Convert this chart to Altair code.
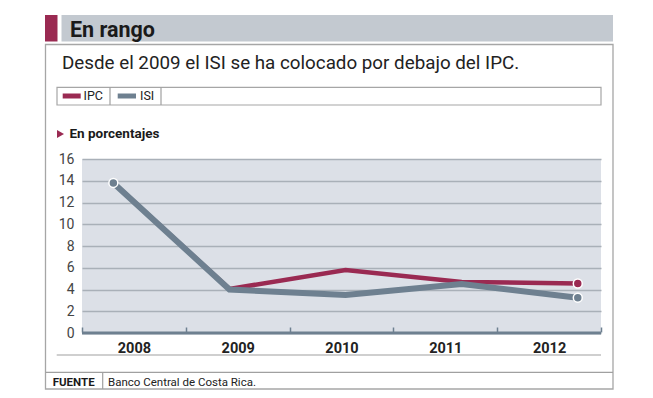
import altair as alt
import pandas as pd

# ---- data ----
years = [2008, 2009, 2010, 2011, 2012]
ipc = [13.8, 4.05, 5.8, 4.7, 4.55]
isi = [13.8, 4.0, 3.5, 4.5, 3.25]
y_ticks = [0, 2, 4, 6, 8, 10, 12, 14, 16]
title_text = "En rango"
subtitle_text = "Desde el 2009 el ISI se ha colocado por debajo del IPC."
unit_text = "En porcentajes"
source_label = "FUENTE"
source_text = "Banco Central de Costa Rica."
series_names = ["IPC", "ISI"]

# ---- style ----
RED = "#9a2a52"
GRAY = "#6e8090"
FONT = "Roboto"
W, H = 519, 174

df_ipc = pd.DataFrame({"year": years, "value": ipc})
df_isi = pd.DataFrame({"year": years, "value": isi})
df_years = pd.DataFrame({"year": [str(y) for y in years]})
df_zero = pd.DataFrame({"value": [y_ticks[0]]})
one = pd.DataFrame({"k": [0]})

xq = alt.X("year:Q", scale=alt.Scale(domain=[2007.73, 2012.2], nice=False, zero=False), axis=None)
yq = alt.Y("value:Q",
           scale=alt.Scale(domain=[0, 16], nice=False),
           axis=alt.Axis(values=y_ticks, grid=True, gridColor="#a9b0b8", gridWidth=1.5,
                         domain=False, ticks=False, labelPadding=8, title=None,
                         labelOverlap=False,
                         labelFont=FONT, labelFontSize=14, labelColor="#444"))

line_ipc = alt.Chart(df_ipc).mark_line(color=RED, strokeWidth=4.5).encode(x=xq, y=yq)
line_isi = alt.Chart(df_isi).mark_line(color=GRAY, strokeWidth=6).encode(x=xq, y=yq)

pts_isi = alt.Chart(df_isi).transform_filter(
    (alt.datum.year == 2008) | (alt.datum.year == 2012)
).mark_circle(color=GRAY, size=80, opacity=1, stroke="white", strokeWidth=1.5).encode(x=xq, y=yq)
pts_ipc = alt.Chart(df_ipc).transform_filter(alt.datum.year == 2012).mark_circle(
    color=RED, size=80, opacity=1, stroke="white", strokeWidth=1.5).encode(x=xq, y=yq)

domain_rule = alt.Chart(df_zero).mark_rule(color=GRAY, strokeWidth=3).encode(
    y=yq, x=alt.value(0), x2=alt.value(W))

axis_layer = alt.Chart(df_years).mark_point(opacity=0).encode(
    x=alt.X("year:O", scale=alt.Scale(type="band", paddingInner=0, paddingOuter=0),
            axis=alt.Axis(orient="bottom", title=None, domain=False, tickBand="extent",
                          tickSize=5, tickWidth=1.5, tickColor=GRAY, offset=-6,
                          labelPadding=9, labelAngle=0, labelFont=FONT, labelFontSize=14.5,
                          labelFontWeight="bold", labelColor="#222")))


def rect(x1, x2, y1, y2, **kw):
    return alt.Chart(one).mark_rect(**kw).encode(
        x=alt.value(x1), x2=alt.value(x2), y=alt.value(y1), y2=alt.value(y2))


def hline(x1, x2, y, color="#a0a0a0", w=1.2):
    return alt.Chart(one).mark_rule(color=color, strokeWidth=w).encode(
        x=alt.value(x1), x2=alt.value(x2), y=alt.value(y))


def vline(x, y1, y2, color="#a0a0a0", w=1.2):
    return alt.Chart(one).mark_rule(color=color, strokeWidth=w).encode(
        x=alt.value(x), y=alt.value(y1), y2=alt.value(y2))


def text(t, x, y, size, weight="normal", color="#222", baseline="alphabetic"):
    return alt.Chart(one).mark_text(text=t, align="left", baseline=baseline, font=FONT,
                                    fontSize=size, fontWeight=weight, color=color).encode(
        x=alt.value(x), y=alt.value(y))


deco = [
    rect(-37, -24.5, -144, -117.5, color=RED),
    rect(-20.5, 531, -144, -117.5, color="#c3c9d0"),
    text(title_text, -12, -122, 21.5, "bold", "#1a1a1a"),
    rect(-36.5, 531, -114.5, 230, fillOpacity=0, stroke="#a6a6a6", strokeWidth=1.3),
    text(subtitle_text, -20, -90, 18.8, "normal", "#222"),
    rect(-25, 519, -71.7, -54, fillOpacity=0, stroke="#a6a6a6", strokeWidth=1.2),
    vline(28, -71.7, -54),
    vline(79, -71.7, -54),
    rect(-19.3, -1.3, -65.5, -60.5, color=RED),
    text(series_names[0], 1.5, -62.8, 12.5, "normal", "#222", "middle"),
    rect(35.7, 54, -65.5, -60.5, color=GRAY),
    text(series_names[1], 58, -62.8, 12.5, "normal", "#222", "middle"),
    alt.Chart(one).mark_point(shape="triangle-right", filled=True, color=RED, size=65,
                              opacity=1).encode(x=alt.value(-21.5), y=alt.value(-25)),
    text(unit_text, -12.5, -25, 13.5, "bold", "#1a1a1a", "middle"),
    hline(-25.3, 519, 196),
    hline(-36.5, 531, 213.3),
    vline(20.7, 213.3, 230),
    text(source_label, -29.3, 226.5, 11.5, "bold", "#1a1a1a"),
    text(source_text, 26, 226.5, 11.5, "normal", "#222"),
]

chart = alt.layer(
    *deco, line_ipc, line_isi, pts_isi, pts_ipc, domain_rule, axis_layer
).resolve_scale(x="independent").properties(
    width=W, height=H,
    autosize=alt.AutoSizeParams(type="none"),
    padding={"left": 74, "top": 151, "right": 30, "bottom": 62},
    background="white",
).configure_view(fill="#dce0e7", stroke=None)

chart.save("out.html", embed_options={"renderer": "svg", "actions": False})
